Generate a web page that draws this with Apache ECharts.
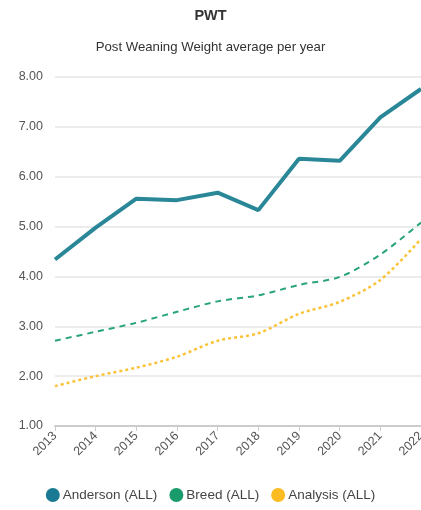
<!DOCTYPE html>
<html lang="en">
<head>
    <meta charset="UTF-8">
    <title>PWT</title>
    <script src="https://cdn.jsdelivr.net/npm/echarts@6/dist/echarts.min.js"></script>
    <style>
        html, body { margin: 0; padding: 0; background: #fff; }
        #chart { width: 421px; height: 510px; }
    </style>
</head>
<body>
<div id="chart"></div>
<script>
    var years = ['2013', '2014', '2015', '2016', '2017', '2018', '2019', '2020', '2021', '2022'];
    var anderson = [4.34, 4.98, 5.56, 5.53, 5.68, 5.33, 6.36, 6.32, 7.19, 7.76];
    var breed = [2.71, 2.89, 3.07, 3.29, 3.50, 3.62, 3.83, 3.99, 4.44, 5.08];
    var analysis = [1.80, 2.00, 2.17, 2.39, 2.71, 2.86, 3.25, 3.49, 3.93, 4.75];

    var myChart = echarts.init(document.getElementById('chart'));
    var font = 'Arial, "Liberation Sans", sans-serif';

    var option = {
        backgroundColor: '#fff',
        animation: false,
        textStyle: { fontFamily: font },
        title: [
            {
                text: 'PWT',
                left: 'center',
                top: 3,
                textStyle: { fontSize: 14.5, fontWeight: 'bold', color: '#333', fontFamily: font }
            },
            {
                text: 'Post Weaning Weight average per year',
                left: 'center',
                top: 36,
                textStyle: { fontSize: 13.2, fontWeight: 'normal', color: '#333', fontFamily: font }
            }
        ],
        legend: {
            bottom: 3,
            left: 'center',
            icon: 'circle',
            itemWidth: 14,
            itemHeight: 14,
            itemGap: 12,
            textStyle: { fontSize: 13.5, color: '#444', fontFamily: font, padding: [0, 0, 0, -2] },
            data: [
                { name: 'Anderson (ALL)', itemStyle: { color: '#1a7a93' } },
                { name: 'Breed (ALL)', itemStyle: { color: '#1a9b6c' } },
                { name: 'Analysis (ALL)', itemStyle: { color: '#fbbc22' } }
            ]
        },
        grid: {
            left: 55,
            right: 0,
            top: 77,
            bottom: 84,
            outerBoundsMode: 'none'
        },
        xAxis: {
            type: 'category',
            boundaryGap: false,
            data: years,
            axisLine: { lineStyle: { color: '#ccc', width: 2 } },
            axisTick: { show: true, alignWithLabel: true, lineStyle: { color: '#ccc' } },
            axisLabel: { rotate: 45, color: '#555', fontSize: 12.5, margin: 8, interval: 0 }
        },
        yAxis: {
            type: 'value',
            min: 1,
            max: 8,
            interval: 1,
            axisLabel: {
                color: '#555',
                fontSize: 12.5,
                margin: 12,
                formatter: function (v) { return v.toFixed(2); }
            },
            axisLine: { show: false },
            axisTick: { show: false },
            splitLine: { lineStyle: { color: '#e6e6e6', width: 1.5 } }
        },
        series: [
            {
                name: 'Anderson (ALL)',
                type: 'line',
                data: anderson,
                symbol: 'none',
                color: '#2a8797',
                lineStyle: { width: 4, color: '#2a8797' }
            },
            {
                name: 'Breed (ALL)',
                type: 'line',
                data: breed,
                symbol: 'none',
                smooth: 0.3,
                color: '#2aa578',
                lineStyle: { width: 2, type: [6, 5], color: '#2aa578' }
            },
            {
                name: 'Analysis (ALL)',
                type: 'line',
                data: analysis,
                symbol: 'none',
                smooth: 0.3,
                color: '#fbc33a',
                lineStyle: { width: 2.5, type: [3, 3], color: '#fbc33a' }
            }
        ]
    };
    myChart.setOption(option);
</script>
</body>
</html>
